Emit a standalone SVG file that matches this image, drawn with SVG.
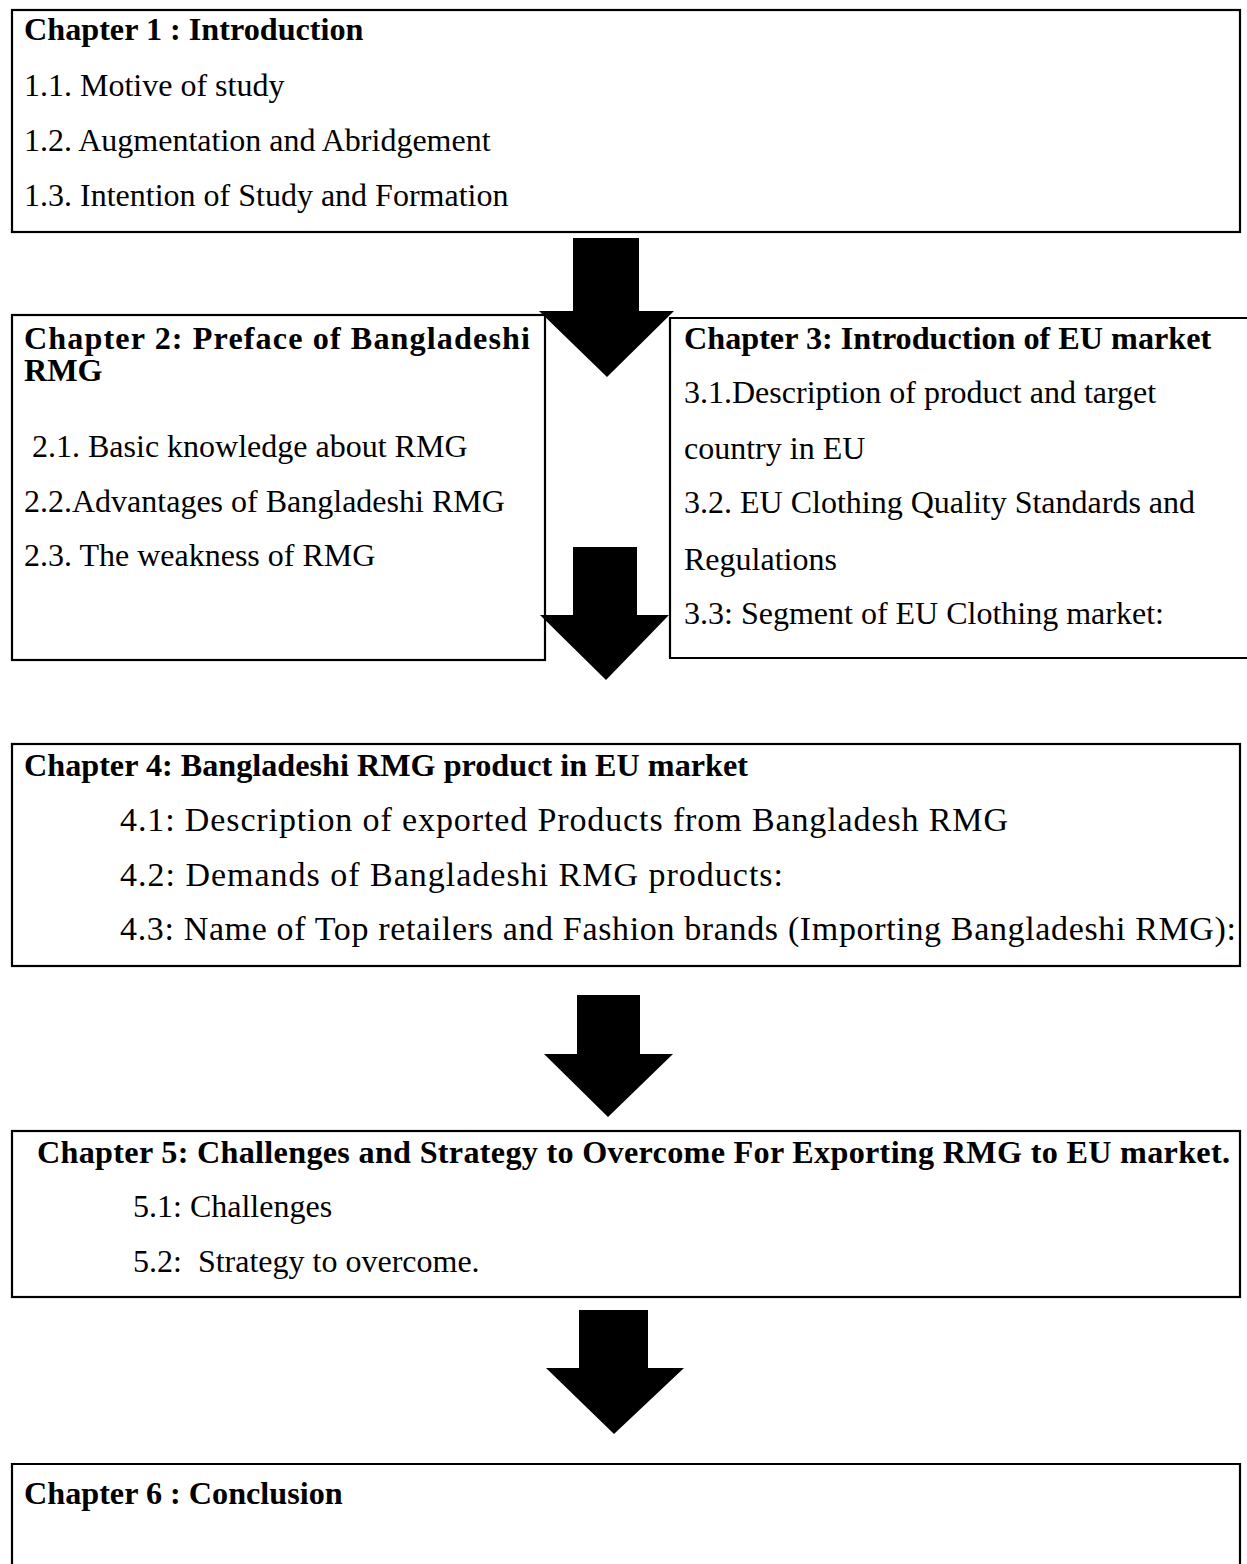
<svg xmlns="http://www.w3.org/2000/svg" width="1247" height="1564" viewBox="0 0 1247 1564">
<style>
.box{fill:#fff;stroke:#000;stroke-width:2.2}
.arrow{fill:#000;stroke:none}
text{font-family:"Liberation Serif","Times New Roman",serif;font-size:32px;fill:#000}
.b{font-weight:bold;font-size:32.2px}
.l{font-size:34px}
</style>
<rect width="1247" height="1564" fill="#fff"/>
<g id="node1">
<rect class="box" x="12" y="10" width="1228" height="222"/>
<text class="b" x="24" y="40">Chapter 1 : Introduction</text>
<text x="24" y="96">1.1. Motive of study</text>
<text x="24" y="151">1.2. Augmentation and Abridgement</text>
<text x="24" y="206">1.3. Intention of Study and Formation</text>
</g>
<g id="node2">
<rect class="box" x="12" y="315" width="533" height="345"/>
<text class="b" x="24" y="349" textLength="506" lengthAdjust="spacing">Chapter 2: Preface of Bangladeshi</text>
<text class="b" x="24" y="381">RMG</text>
<text x="24" y="457" xml:space="preserve"> 2.1. Basic knowledge about RMG</text>
<text x="24" y="512">2.2.Advantages of Bangladeshi RMG</text>
<text x="24" y="566">2.3. The weakness of RMG</text>
</g>
<g id="node3">
<path class="box" d="M1250 318 H670 V658 H1250"/>
<text class="b" x="684" y="349">Chapter 3: Introduction of EU market</text>
<text x="684" y="403">3.1.Description of product and target</text>
<text x="684" y="459">country in EU</text>
<text x="684" y="513">3.2. EU Clothing Quality Standards and</text>
<text x="684" y="570">Regulations</text>
<text x="684" y="624">3.3: Segment of EU Clothing market:</text>
</g>
<g id="node4">
<rect class="box" x="12" y="744" width="1228" height="222"/>
<text class="b" x="24" y="776">Chapter 4: Bangladeshi RMG product in EU market</text>
<text class="l" x="120" y="831" textLength="888" lengthAdjust="spacing">4.1: Description of exported Products from Bangladesh RMG</text>
<text class="l" x="120" y="886" textLength="663" lengthAdjust="spacing">4.2: Demands of Bangladeshi RMG products:</text>
<text class="l" x="120" y="940" textLength="1116" lengthAdjust="spacing">4.3: Name of Top retailers and Fashion brands (Importing Bangladeshi RMG):</text>
</g>
<g id="node5">
<rect class="box" x="12" y="1131" width="1228" height="166"/>
<text class="b" x="37" y="1163" textLength="1193" lengthAdjust="spacing">Chapter 5: Challenges and Strategy to Overcome For Exporting RMG to EU market.</text>
<text x="133" y="1217">5.1: Challenges</text>
<text x="133" y="1272" xml:space="preserve">5.2:  Strategy to overcome.</text>
</g>
<g id="node6">
<path class="box" d="M12 1570 V1464 H1240 V1570"/>
<text class="b" x="24" y="1504">Chapter 6 : Conclusion</text>
</g>
<g id="connectors">
<polygon class="arrow" points="573,238 639,238 639,311 674,311 607,377 539,311 573,311"/>
<polygon class="arrow" points="573,547 637,547 637,615 669,615 606,680 540,615 573,615"/>
<polygon class="arrow" points="577,995 640,995 640,1054 673,1054 608,1117 544,1054 577,1054"/>
<polygon class="arrow" points="579,1310 648,1310 648,1368 684,1368 614,1434 546,1368 579,1368"/>
</g>
</svg>
